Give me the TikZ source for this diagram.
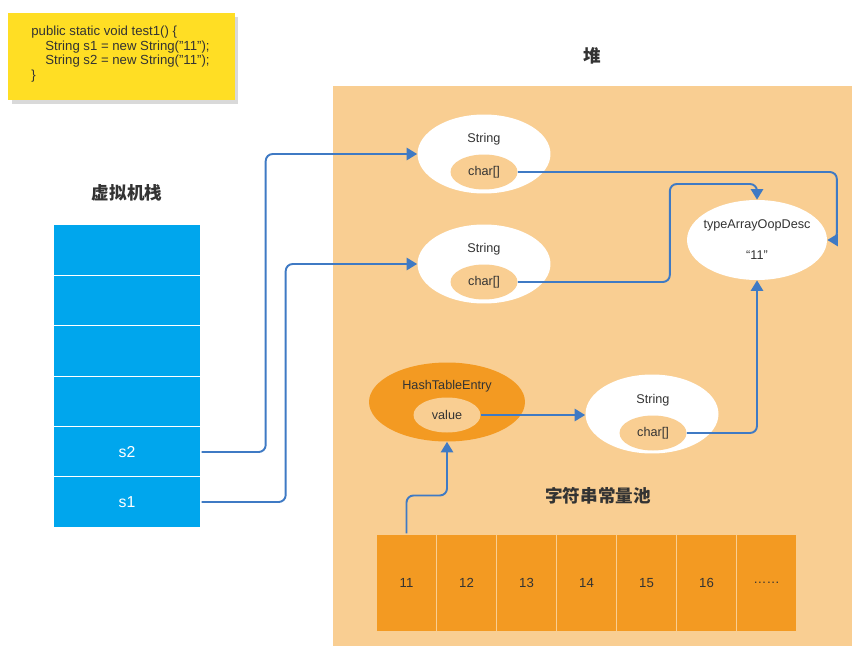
\documentclass[tikz,border=0pt]{standalone}
\usepackage{fontspec}
\setmainfont{Liberation Sans}
\newfontfamily\cjk{Noto Sans CJK SC}
\usetikzlibrary{arrows.meta, positioning, shapes.geometric, shadows}
\definecolor{heapbg}{RGB}{249, 206, 146}
\definecolor{poolorange}{RGB}{243, 154, 34}
\definecolor{stackblue}{RGB}{0, 166, 237}
\definecolor{codeyellow}{RGB}{255, 222, 36}
\definecolor{linkblue}{RGB}{63, 122, 196}
\definecolor{textgray}{RGB}{51, 51, 51}

\begin{document}
\begin{tikzpicture}[x=0.02cm, y=-0.02cm,
    title/.style={font=\cjk\bfseries\fontsize{10}{12}\selectfont, text=textgray},
    label text/.style={font=\fontsize{7.2}{8.6}\selectfont, text=textgray},
    slot/.style={draw=white, line width=0.8pt, fill=stackblue, minimum width=2.96cm, minimum height=1.01cm, text=white, font=\fontsize{9}{11}\selectfont},
    cell/.style={draw=heapbg, line width=0.6pt, fill=poolorange, minimum width=1.2cm, minimum height=1.96cm, text=textgray, font=\fontsize{7.5}{9}\selectfont},
    obj/.style={ellipse, fill=white, inner sep=0pt, minimum width=2.66cm, minimum height=1.58cm},
    field/.style={ellipse, fill=heapbg, inner sep=0pt, minimum width=1.34cm, minimum height=0.7cm, label text},
    link/.style={draw=linkblue, line width=1.1pt, rounded corners=4, -{Triangle[length=6pt, width=7pt]}}]
    \useasboundingbox (0,0) rectangle (864,655);

    % code
    \node[fill=codeyellow, minimum width=4.54cm, minimum height=1.74cm, drop shadow={opacity=0.3, shadow xshift=2pt, shadow yshift=-2pt}] (code) at (121.5,56.5) {};
    \node[label text, align=left, anchor=west, inner sep=0pt, font=\fontsize{7.5}{8.2}\selectfont] (codetext) at (31,54)
        {public static void test1() \{\\
         \hspace*{8pt}String s1 = new String("11");\\
         \hspace*{8pt}String s2 = new String("11");\\
         \}};

    % heap
    \fill[heapbg] (333,86) rectangle (852,646);
    \node[title] (heaptitle) at (592,56) {堆};

    % stack
    \node[title] (stacktitle) at (127,193) {虚拟机栈};
    \node[slot] (f1) at (127,250) {};
    \node[slot] (f2) at (127,300.5) {};
    \node[slot] (f3) at (127,351) {};
    \node[slot] (f4) at (127,401.5) {};
    \node[slot] (s2) at (127,452) {s2};
    \node[slot] (s1) at (127,502) {s1};

    % objects
    \node[obj] (str1) at (484,154) {};
    \node[label text] (str1name) at (484,139) {String};
    \node[field] (chr1) at (484,172) {char[]};

    \node[obj] (str2) at (484,264) {};
    \node[label text] (str2name) at (484,249) {String};
    \node[field] (chr2) at (484,282) {char[]};

    \node[obj, minimum width=2.8cm, minimum height=1.6cm] (arr) at (757,240) {};
    \node[label text] (arrname) at (757,225) {typeArrayOopDesc};
    \node[label text] (arrval) at (757,255) {“11”};

    \node[obj, fill=poolorange, minimum width=3.12cm] (hte) at (447,402) {};
    \node[label text] (htename) at (447,386) {HashTableEntry};
    \node[field] (val) at (447,415) {value};

    \node[obj] (str3) at (652,414) {};
    \node[label text] (str3name) at (653,400) {String};
    \node[field] (chr3) at (653,433) {char[]};

    % string pool
    \node[title] (pooltitle) at (598,496) {字符串常量池};
    \foreach \v [count=\i] in {11,12,13,14,15,16,……}
        \node[cell] (c\i) at (346.5+60*\i,583) {\v};

    \draw[link] (s2.east) -- ++(64,0) |- (str1.west);
    \draw[link] (s1.east) -- ++(84,0) |- (str2.west);
    \draw[link] (chr1.east) -- ++(319,0) |- (arr.east);
    \draw[link] (chr2.east) -- ++(152,0) -- ++(0,-98) -| (arr.north);
    \draw[link] (chr3.east) -| (arr.south);
    \draw[link] (val.east) -- (val.east -| str3.west);
    \draw[link] (c1.north) -- ++(0,-38) -| (hte.south);
\end{tikzpicture}
\end{document}
